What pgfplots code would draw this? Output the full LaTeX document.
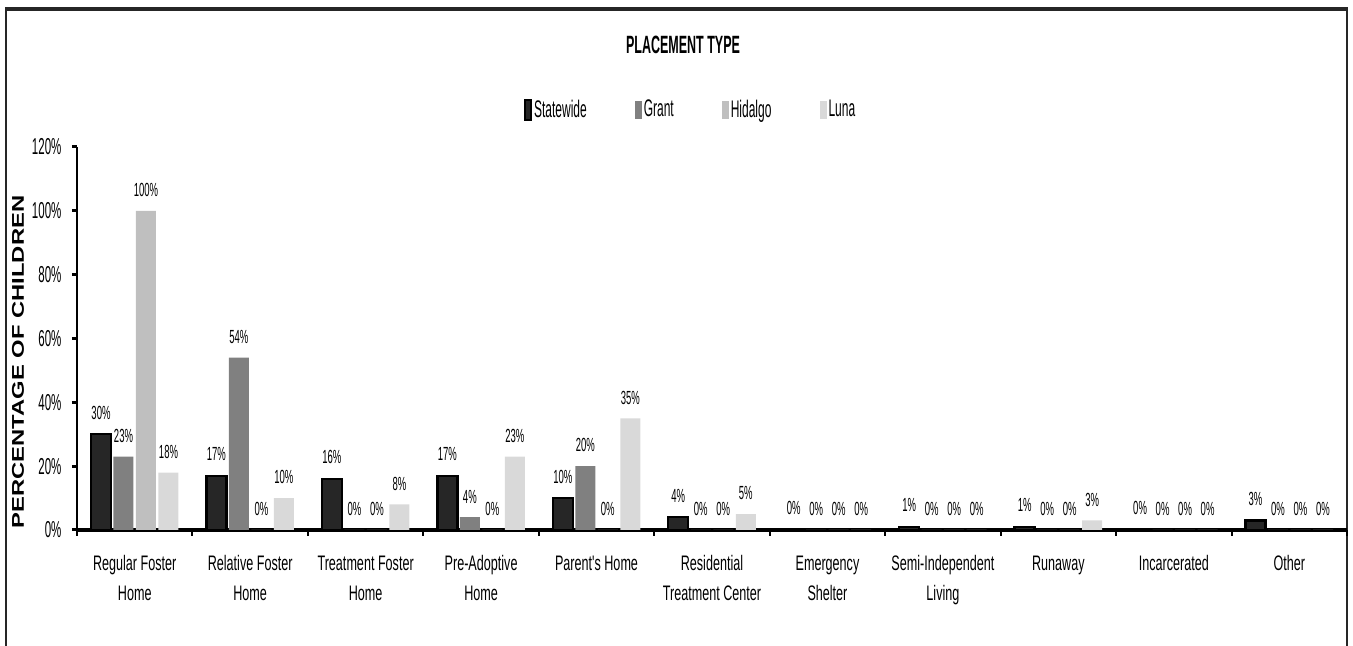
\documentclass[border=0pt]{standalone}
\usepackage{fontspec}
\setmainfont{Liberation Sans}[FakeStretch=0.5]
\newfontfamily\catfont{Liberation Sans}[FakeStretch=0.6]
\newfontfamily\ylabfont{Liberation Sans}[FakeStretch=1.4]
\usepackage{pgfplots}
\pgfplotsset{compat=1.18}
\definecolor{cstate}{HTML}{262626}
\definecolor{cgrant}{HTML}{808080}
\definecolor{chidalgo}{HTML}{BFBFBF}
\definecolor{cluna}{HTML}{D9D9D9}

\begin{document}
\begin{tikzpicture}
\path[use as bounding box] (0,0) rectangle (676.5pt,323pt);
% outer frame (bottom edge is off the picture)
\draw[line width=1pt, black!85] (3pt,0) -- (3pt,318.5pt);
\draw[line width=1pt, black!85] (673.5pt,0) -- (673.5pt,318.5pt);
\draw[line width=1.6pt, black!85] (2.5pt,318.5pt) -- (674pt,318.5pt);

\node[font=\bfseries\fontsize{12.5}{14}\selectfont] at (341.5pt,300.5pt) {PLACEMENT TYPE};
\node[rotate=90, font=\ylabfont\bfseries\fontsize{8.5}{10}\selectfont] at (9pt,142pt) {PERCENTAGE OF CHILDREN};

\begin{axis}[
    at={(38.5pt,58pt)}, anchor=south west,
    scale only axis, width=635pt, height=191.5pt,
    xmin=-0.5, xmax=10.5, ymin=0, ymax=120,
    enlargelimits=false, clip=false,
    ybar=1.25pt, bar width=10pt,
    axis x line*=bottom, axis y line*=left,
    x axis line style={line width=2pt, -},
    y axis line style={line width=1pt, -},
    tick align=outside,
    xtick={-0.5,0.5,...,10.5},
    x tick label as interval,
    xticklabels={{Regular Foster\\Home},{Relative Foster\\Home},{Treatment Foster\\Home},
                 {Pre-Adoptive\\Home},{Parent's Home},{Residential\\Treatment Center},
                 {Emergency\\Shelter},{Semi-Independent\\Living},{Runaway},{Incarcerated},{Other}},
    xtick style={line width=1pt, black, /pgfplots/major tick length=3pt},
    xticklabel style={align=center, font=\catfont\fontsize{10.5}{15}\selectfont, yshift=-5pt},
    ytick={0,20,...,120},
    yticklabel={\pgfmathprintnumber{\tick}\%},
    ytick style={line width=1.5pt, black, /pgfplots/major tick length=2.5pt},
    yticklabel style={font=\fontsize{11.5}{13}\selectfont},
    /pgf/number format/assume math mode=true,
    nodes near coords={\pgfmathprintnumber{\pgfplotspointmeta}\%},
    every node near coord/.append style={font=\fontsize{9.5}{10}\selectfont, yshift=3.5pt, text=black},
    legend columns=4,
    legend style={at={(0.347,1.097)}, anchor=west, draw=none, fill=none,
                  font=\fontsize{12}{14}\selectfont, nodes={inner sep=1pt},
                  /tikz/every even column/.append style={column sep=23pt}},
]
% Statewide
\addplot[fill=cstate, draw=black, line width=1.2pt,
  legend image code/.code={\draw[fill=cstate, draw=black, line width=0.8pt] (0pt,-5pt) rectangle (3.2pt,5pt);}]
  coordinates {(0,30) (1,17) (2,16) (3,17) (4,10) (5,4) (6,0) (7,1) (8,1) (9,0) (10,3)};
% Grant
\addplot[fill=cgrant, draw=none,
  legend image code/.code={\fill[cgrant] (0pt,-4.5pt) rectangle (3.5pt,4.5pt);}]
  coordinates {(0,23) (1,54) (2,0) (3,4) (4,20) (5,0) (6,0) (7,0) (8,0) (9,0) (10,0)};
% Hidalgo
\addplot[fill=chidalgo, draw=none,
  legend image code/.code={\fill[chidalgo] (0pt,-4.5pt) rectangle (3.5pt,4.5pt);}]
  coordinates {(0,100) (1,0) (2,0) (3,0) (4,0) (5,0) (6,0) (7,0) (8,0) (9,0) (10,0)};
% Luna
\addplot[fill=cluna, draw=none,
  legend image code/.code={\fill[cluna] (0pt,-4.5pt) rectangle (3.5pt,4.5pt);}]
  coordinates {(0,18) (1,10) (2,8) (3,23) (4,35) (5,5) (6,0) (7,0) (8,3) (9,0) (10,0)};
\legend{Statewide,Grant,Hidalgo,Luna}
\end{axis}
\end{tikzpicture}
\end{document}
